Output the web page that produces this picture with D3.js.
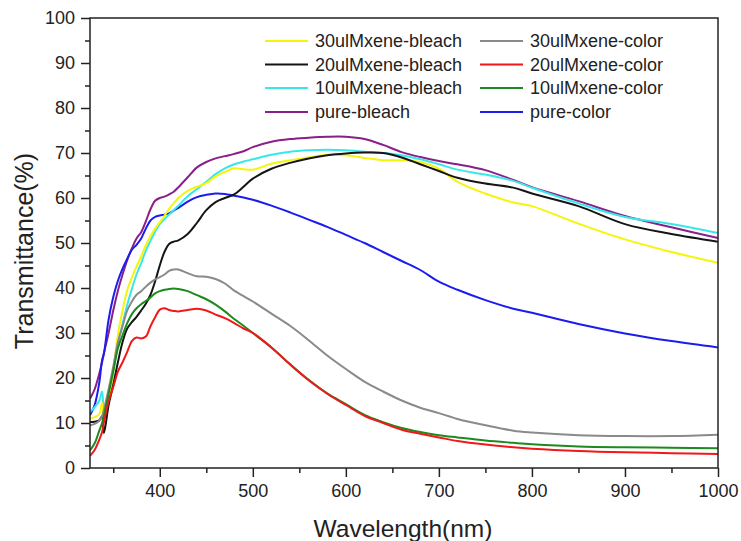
<!DOCTYPE html>
<html>
<head>
<meta charset="utf-8">
<script src="https://cdn.jsdelivr.net/npm/d3@7"></script>
<style>
  html, body { margin: 0; padding: 0; background: #fff; }
  svg { display: block; font-family: Arial, "Liberation Sans", sans-serif; }
</style>
</head>
<body>
<svg id="chart" width="741" height="541"></svg>
<script>
// ---- data ----
const wavelengths = [325,330,335,338,340,345,350,355,360,365,370,375,380,385,390,395,400,405,410,415,420,430,440,450,460,470,480,490,500,520,540,560,580,600,620,640,660,680,700,720,750,780,800,850,900,950,1000];

const bleach30 = [11,11.3,12,14.5,10.5,15,21.5,29.6,35,39.5,42.3,44.8,47,49.5,51.5,53.2,54.6,56,57.6,58.8,60,61.6,62.5,63.3,64.8,65.8,66.6,66.4,66.3,67.6,68.4,69,69.6,69.5,68.9,68.4,68.4,68,66.5,63.6,61,59,58.2,54.3,50.8,48,45.6];
const color30 = [9.5,9.8,10.5,11.5,13,17.5,22.5,28,31.5,35,37,38.5,39.3,40.3,41.2,41.9,42.4,43,43.8,44.1,44.1,43.3,42.6,42.5,42,41,39.4,38.2,37,34.3,31.6,28.4,25,22,19.2,17,15,13.4,12.2,10.9,9.5,8.3,7.9,7.3,7.1,7.1,7.4];
const bleach20 = [10.2,10.3,10.6,11.5,7.8,14,18.5,23.5,28,31,32.4,33.6,35,36.5,38.5,41.5,45,48,49.8,50.3,50.6,52,54.5,57.3,59.1,60,60.8,62.5,64.3,66.5,67.8,68.8,69.5,69.9,70.1,70,69,67.5,66,64.5,63.2,62.3,61,58.2,54.2,52,50.3];
const color20 = [2.7,4,6.3,8,10.2,14.8,18,21.4,23.5,25.8,28.2,29,28.8,29.2,31.5,33.5,35.2,35.5,35.1,34.9,34.8,35.1,35.4,35,34.1,33.3,32.2,31,30,26.8,23,19.5,16.5,14,11.6,10,8.5,7.6,6.8,6,5.2,4.6,4.3,3.8,3.5,3.3,3.1];
const bleach10 = [12.5,13.5,15,17,13,16.5,21.5,27.4,32,36.2,39.8,43,45.5,48.3,50.5,52.5,54.2,55.3,56.3,57.3,58.3,60.4,62,63.6,65.3,66.6,67.5,68.1,68.6,69.6,70.3,70.6,70.7,70.6,70.3,70,69.5,68.6,67.5,66.3,65.2,63.8,62.3,58.8,55.8,54.2,52.2];
const color10 = [3.9,5.5,8.3,10,11.7,16.5,21.5,26.6,29.5,32.2,34.2,35.5,36.4,37.1,37.9,38.8,39.3,39.6,39.8,39.9,39.8,39.3,38.4,37.5,36.3,34.8,33.1,31.6,30,26.8,23.1,19.6,16.6,14.2,11.8,10.2,8.9,8,7.3,6.8,6.1,5.6,5.3,4.8,4.6,4.5,4.4];
const pureBleach = [15.4,17.5,21,23.5,25.5,30,35,39.4,43,46.2,48.8,51,52.4,54.8,57.5,59.4,60,60.3,60.8,61.4,62.4,64.6,66.8,68,68.8,69.3,69.8,70.4,71.3,72.5,73.1,73.4,73.6,73.6,73.1,71.8,70.2,69.1,68.2,67.5,66.2,64,62.4,59.3,56,53.5,51.1];
const pureColor = [11.7,14,19,24,25.5,33,38,41.6,44.3,46.5,48.5,49.6,51,53.2,55,55.8,56.1,56.3,56.6,57.2,57.8,59.2,60.2,60.7,61,60.9,60.5,60.1,59.6,58.3,56.8,55.2,53.6,51.8,50,48,46,44,41.4,39.6,37.3,35.4,34.5,32,29.9,28.2,26.8];

const seriesNames = ["30ulMxene-bleach","30ulMxene-color","20ulMxene-bleach","20ulMxene-color","10ulMxene-bleach","10ulMxene-color","pure-bleach","pure-color"];
const seriesValues = [bleach30,color30,bleach20,color20,bleach10,color10,pureBleach,pureColor];
const seriesColors = ["#f5f50a","#8a8a8a","#151515","#f01818","#38e8e8","#1c8a1c","#8a1e8a","#1c1cf0"];

const yTicks = [0,10,20,30,40,50,60,70,80,90,100];
const yMinorTicks = [5,15,25,35,45,55,65,75,85,95];
const xTicks = [400,500,600,700,800,900,1000];
const xMinorTicks = [350,450,550,650,750,850,950];
const xTitle = "Wavelength(nm)";
const yTitle = "Transmittance(%)";

// ---- layout ----
const svg = d3.select("#chart");
const L = 90, R = 718, T = 18, B = 468;
const x = d3.scaleLinear().domain([325, 1000]).range([L, R]);
const y = d3.scaleLinear().domain([0, 100]).range([B, T]);

svg.append("rect").attr("width", 741).attr("height", 541).attr("fill", "#fff");

svg.append("defs").append("clipPath").attr("id", "clip")
  .append("rect").attr("x", L).attr("y", T).attr("width", R - L).attr("height", B - T);

// lines
const line = d3.line().x((d, i) => x(wavelengths[i])).y(d => y(d)).curve(d3.curveCatmullRom.alpha(0.5));
const drawOrder = [6, 7, 4, 0, 2, 1, 5, 3];
const g = svg.append("g").attr("clip-path", "url(#clip)");
drawOrder.forEach(k => {
  g.append("path").datum(seriesValues[k])
    .attr("d", line).attr("fill", "none")
    .attr("stroke", seriesColors[k]).attr("stroke-width", 2)
    .attr("stroke-linejoin", "round");
});

// axes
const axisColor = "#222";
const xAxis = svg.append("g").attr("transform", `translate(0,${B})`)
  .call(d3.axisBottom(x).tickValues(xTicks).tickSize(9).tickPadding(7).tickFormat(d3.format("d")));
const xMinor = svg.append("g").attr("transform", `translate(0,${B})`)
  .call(d3.axisBottom(x).tickValues(xMinorTicks).tickSize(5).tickFormat(""));
const yAxis = svg.append("g").attr("transform", `translate(${L},0)`)
  .call(d3.axisLeft(y).tickValues(yTicks).tickSize(9).tickPadding(6).tickFormat(d3.format("d")));
const yMinor = svg.append("g").attr("transform", `translate(${L},0)`)
  .call(d3.axisLeft(y).tickValues(yMinorTicks).tickSize(5).tickFormat(""));

[xAxis, xMinor, yAxis, yMinor].forEach(a => {
  a.select(".domain").remove();
  a.selectAll("line").attr("stroke", axisColor).attr("stroke-width", 1.5);
  a.selectAll("text").attr("fill", axisColor).attr("font-size", 18)
    .attr("font-family", "Arial, 'Liberation Sans', sans-serif");
});

// frame
svg.append("rect").attr("x", L).attr("y", T).attr("width", R - L).attr("height", B - T)
  .attr("fill", "none").attr("stroke", axisColor).attr("stroke-width", 1.5);

// titles
svg.append("text").attr("x", 403).attr("y", 537).attr("text-anchor", "middle")
  .attr("font-size", 24.5).attr("fill", axisColor).text(xTitle);
svg.append("text").attr("transform", "translate(33,251) rotate(-90)")
  .attr("text-anchor", "middle").attr("font-size", 25).attr("fill", axisColor).text(yTitle);

// legend
const legendCols = [[0, 2, 4, 6], [1, 3, 5, 7]];
const colX = [265, 480];
const rowY = [41, 64.5, 88, 112];
legendCols.forEach((col, ci) => {
  col.forEach((k, ri) => {
    const lg = svg.append("g").attr("transform", `translate(${colX[ci]},${rowY[ri]})`);
    lg.append("line").attr("x1", 0).attr("x2", 43).attr("y1", 0).attr("y2", 0)
      .attr("stroke", seriesColors[k]).attr("stroke-width", 2);
    lg.append("text").attr("x", 50).attr("y", 0).attr("dy", "0.35em")
      .attr("font-size", 18).attr("fill", axisColor).text(seriesNames[k]);
  });
});
</script>
</body>
</html>
